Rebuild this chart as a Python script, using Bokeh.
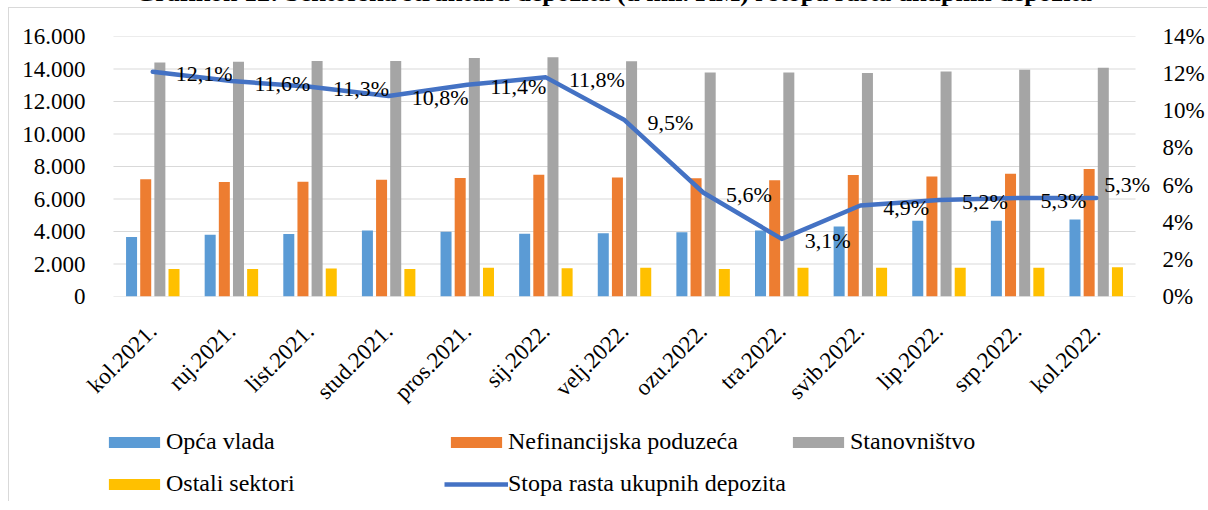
import math
from bokeh.plotting import figure
from bokeh.layouts import column
from bokeh.models import (ColumnDataSource, Range1d, LinearAxis, FixedTicker,
                          CustomJSTickFormatter, PrintfTickFormatter, Legend, LegendItem,
                          Label, LabelSet)
from bokeh.core.properties import value
from bokeh.transform import dodge
from bokeh.embed import file_html
from bokeh.resources import INLINE

# ---------------- data ----------------
categories = ["kol.2021.", "ruj.2021.", "list.2021.", "stud.2021.", "pros.2021.", "sij.2022.",
              "velj.2022.", "ozu.2022.", "tra.2022.", "svib.2022.", "lip.2022.", "srp.2022.",
              "kol.2022."]
opca_vlada = [3660, 3800, 3840, 4060, 3980, 3860, 3900, 3960, 4060, 4310, 4660, 4660, 4740]
nefinancijska = [7220, 7040, 7060, 7180, 7300, 7490, 7320, 7280, 7160, 7470, 7390, 7550, 7840]
stanovnistvo = [14400, 14440, 14500, 14500, 14670, 14730, 14480, 13780, 13780, 13750, 13850,
                13950, 14070]
ostali = [1690, 1700, 1720, 1690, 1770, 1740, 1770, 1700, 1770, 1770, 1770, 1770, 1800]
stopa_rasta = [12.1, 11.6, 11.3, 10.8, 11.4, 11.8, 9.5, 5.6, 3.1, 4.9, 5.2, 5.3, 5.3]

left_ticks = [0, 2000, 4000, 6000, 8000, 10000, 12000, 14000, 16000]
right_ticks = [0, 2, 4, 6, 8, 10, 12, 14]

series_names = ["Opća vlada", "Nefinancijska poduzeća", "Stanovništvo", "Ostali sektori"]
line_name = "Stopa rasta ukupnih depozita"
title_text = "Grafikon 12: Sektorska struktura depozita (u mil. KM) i stopa rasta ukupnih depozita"

# ---------------- styling ----------------
FONT = "Liberation Serif"
FS_TICK = "23px"
FS_LBL = "22px"
FS_LEG = "24px"
FS_TITLE = "26px"
COLORS = ["#5B9BD5", "#ED7D31", "#A5A5A5", "#FFC000"]
LINE_COLOR = "#4472C4"
GRID = "#D9D9D9"
BORDER = "1px solid #D9D9D9"

n = len(categories)
xc = [i + 0.5 for i in range(n)]
labels = [f"{v:.1f}%".replace(".", ",") for v in stopa_rasta]
dx = [23] * n
dy = [-2] * n
dx[-1] = 8
dy[-1] = 14

src = ColumnDataSource(dict(xc=xc, cat=categories, ov=opca_vlada, nf=nefinancijska,
                            st=stanovnistvo, os=ostali, rate=stopa_rasta, lbl=labels,
                            dx=dx, dy=dy))

# ---------------- title strip ----------------
TW, TH = 1199, 24
tfig = figure(width=TW, height=TH, x_range=Range1d(0, TW), y_range=Range1d(0, TH),
              x_axis_type=None, y_axis_type=None,
              output_backend="svg", toolbar_location=None, min_border=0)
tfig.grid.visible = False
tfig.outline_line_color = None
tfig.add_layout(Label(x=605, y=15, text=title_text, text_font=FONT, text_font_size=FS_TITLE,
                      text_font_style="bold", text_align="center",
                      text_baseline="alphabetic", text_color="black"))

# ---------------- main chart ----------------
W, H = 1198, 413
MB_L, MB_R, MB_T, MB_B = 91, 52, 28, 125
UNIT = 1024.0 / n                      # pixels per category
FRAME_W = W - MB_L - MB_R
x_start = -13 / UNIT
x_end = x_start + FRAME_W / UNIT
p = figure(x_range=Range1d(x_start, x_end), y_range=Range1d(0, 16000), width=W, height=H,
           output_backend="svg", toolbar_location=None,
           min_border_left=MB_L, min_border_right=MB_R, min_border_top=MB_T,
           min_border_bottom=MB_B)
p.outline_line_color = None

# horizontal gridlines across the category area only
p.segment(x0=0, x1=n, y0=left_ticks, y1=left_ticks, line_color=GRID, line_width=1)

offsets = [-0.27, -0.09, 0.09, 0.27]
fields = ["ov", "nf", "st", "os"]
for off, f, c in zip(offsets, fields, COLORS):
    p.vbar(x=dodge("xc", off), top=f, width=0.14, source=src, fill_color=c, line_color=None)

p.extra_y_ranges = {"pct": Range1d(0, 14)}
p.line(x="xc", y="rate", y_range_name="pct", source=src, line_color=LINE_COLOR,
       line_width=4.5, line_join="round", line_cap="round")

p.add_layout(LabelSet(x="xc", y="rate", y_range_name="pct", text="lbl", source=src,
                      x_offset="dx", y_offset="dy", text_font=value(FONT),
                      text_font_size=value(FS_LBL), text_color="black", text_align="left",
                      text_baseline="middle"))

p.yaxis.ticker = FixedTicker(ticks=left_ticks)
p.yaxis.formatter = CustomJSTickFormatter(
    code="return tick == 0 ? '0' : (tick/1000).toFixed(3);")
ax_r = LinearAxis(y_range_name="pct", ticker=FixedTicker(ticks=right_ticks),
                  formatter=PrintfTickFormatter(format="%d%%"))
p.add_layout(ax_r, "right")
for ax, so in ((p.yaxis[0], 9), (ax_r, 3)):
    ax.axis_line_color = None
    ax.major_tick_line_color = None
    ax.minor_tick_line_color = None
    ax.major_label_text_font = FONT
    ax.major_label_text_font_size = FS_TICK
    ax.major_label_text_color = "black"
    ax.major_label_standoff = so

xa = p.xaxis[0]
xa.ticker = FixedTicker(ticks=xc)
xa.major_label_overrides = {x: c for x, c in zip(xc, categories)}
xa.axis_line_color = None
xa.major_tick_line_color = None
xa.minor_tick_line_color = None
xa.major_label_orientation = math.pi / 4
xa.major_label_text_font = FONT
xa.major_label_text_font_size = FS_TICK
xa.major_label_text_color = "black"
xa.major_label_standoff = 25
p.grid.visible = False

# ---------------- legend strip ----------------
LW, LH = 1198, 80
lfig = figure(width=LW, height=LH, x_range=Range1d(0, LW), y_range=Range1d(0, LH),
              x_axis_type=None, y_axis_type=None,
              output_backend="svg", toolbar_location=None, min_border=0)
lfig.grid.visible = False
lfig.outline_line_color = None
nan = float("nan")
proxies = [lfig.vbar(x=[nan], top=[nan], width=1, fill_color=c, line_color=None)
           for c in COLORS]
proxies.append(lfig.line(x=[nan, nan], y=[nan, nan], line_color=LINE_COLOR, line_width=4.5))
names = series_names + [line_name]
spots = [(2, 46), (344, 46), (686, 46), (2, 4), (344, 4)]
for name, r, (lx, ly) in zip(names, proxies, spots):
    lfig.add_layout(Legend(items=[LegendItem(label=name, renderers=[r])], location=(lx, ly),
                           glyph_width=64, glyph_height=14, label_standoff=0, padding=0,
                           margin=0, spacing=0, border_line_color=None,
                           background_fill_alpha=0, label_text_font=FONT,
                           label_text_font_size=FS_LEG, label_text_color="black"))

box = column(p, lfig, styles={"border-left": BORDER, "border-top": BORDER})
page = column(tfig, box, styles={"margin-top": "-17px", "margin-left": "8px"})

open("out.html", "w").write(file_html(page, INLINE))
